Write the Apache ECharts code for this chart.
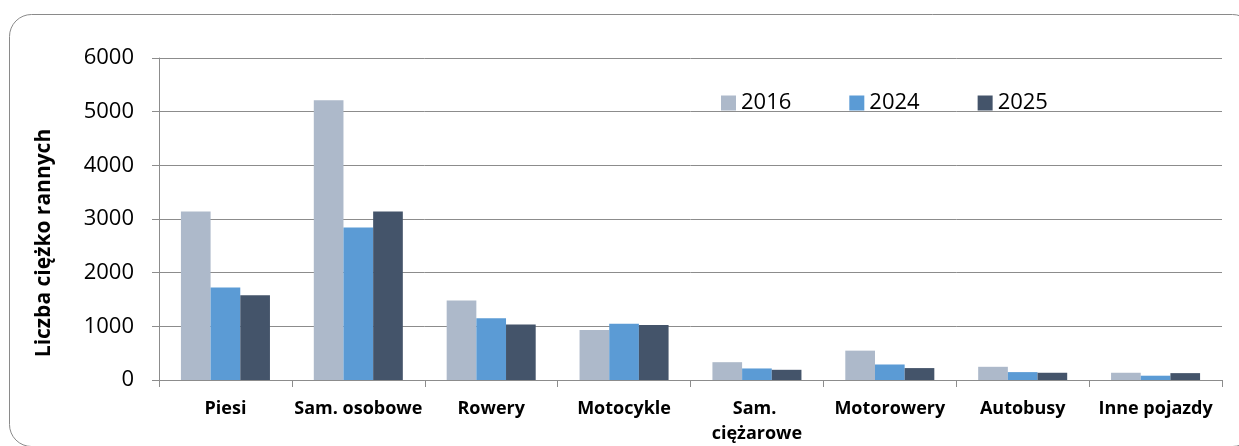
<!DOCTYPE html>
<html>
<head>
<meta charset="utf-8">
<script src="https://cdn.jsdelivr.net/npm/echarts@6/dist/echarts.min.js"></script>
<style>
html,body{margin:0;padding:0;background:#fff;}
#c{width:1239px;height:446px;}
</style>
</head>
<body>
<div id="c"></div>
<script>
const categories = ['Piesi', 'Sam. osobowe', 'Rowery', 'Motocykle', 'Sam. ciężarowe', 'Motorowery', 'Autobusy', 'Inne pojazdy'];
const seriesNames = ['2016', '2024', '2025'];
const values2016 = [3140, 5215, 1482, 932, 332, 547, 246, 135];
const values2024 = [1725, 2840, 1149, 1050, 215, 289, 147, 80];
const values2025 = [1578, 3140, 1032, 1026, 190, 222, 135, 128];
const yTicks = [0, 1000, 2000, 3000, 4000, 5000, 6000];
const yAxisTitle = 'Liczba ciężko rannych';

const colors = ['#adb9ca', '#5b9bd5', '#44546a'];
const allValues = [values2016, values2024, values2025];
const FONT = '"Open Sans", sans-serif';

const chart = echarts.init(document.getElementById('c'), null, {renderer: 'canvas'});
chart.setOption({
  animation: false,
  backgroundColor: '#ffffff',
  color: colors,
  graphic: [
    {
      type: 'rect',
      shape: {x: 9.5, y: 14.5, width: 1245, height: 432, r: 22},
      style: {fill: 'none', stroke: '#8a8a8a', lineWidth: 1},
      z: -1
    },
    {
      type: 'text',
      x: 44,
      y: 243,
      rotation: Math.PI / 2,
      style: {
        text: yAxisTitle,
        font: 'bold 21px ' + FONT,
        fill: '#000',
        align: 'center',
        verticalAlign: 'middle'
      }
    }
  ],
  legend: {
    data: seriesNames,
    left: 716,
    top: 85,
    itemWidth: 15,
    itemHeight: 15,
    itemGap: 58,
    icon: 'rect',
    textStyle: {fontFamily: FONT, fontSize: 22, color: '#000', lineHeight: 26}
  },
  grid: {left: 159, right: 17, top: 58, bottom: 65, containLabel: false},
  xAxis: {
    type: 'category',
    data: categories,
    boundaryGap: true,
    axisLine: {show: true, lineStyle: {color: '#8c8c8c', width: 1}},
    axisTick: {show: true, length: 7, alignWithLabel: false, lineStyle: {color: '#8c8c8c'}},
    axisLabel: {
      interval: 0,
      margin: 16,
      fontFamily: FONT,
      fontWeight: 'bold',
      fontSize: 18,
      lineHeight: 25,
      color: '#000',
      width: 132,
      overflow: 'break'
    },
    splitLine: {show: false}
  },
  yAxis: {
    type: 'value',
    min: yTicks[0],
    max: yTicks[yTicks.length - 1],
    interval: yTicks[1] - yTicks[0],
    axisLine: {show: true, lineStyle: {color: '#8c8c8c', width: 1}},
    axisTick: {show: true, length: 7, lineStyle: {color: '#8c8c8c'}},
    axisLabel: {margin: 25, fontFamily: FONT, fontSize: 22, color: '#000', formatter: (v) => String(v)},
    splitLine: {show: true, lineStyle: {color: '#8c8c8c', width: 1}}
  },
  series: seriesNames.map((name, i) => ({
    name: name,
    type: 'bar',
    data: allValues[i],
    barGap: '0%',
    barCategoryGap: '33%',
    itemStyle: {color: colors[i]}
  }))
});
</script>
</body>
</html>
